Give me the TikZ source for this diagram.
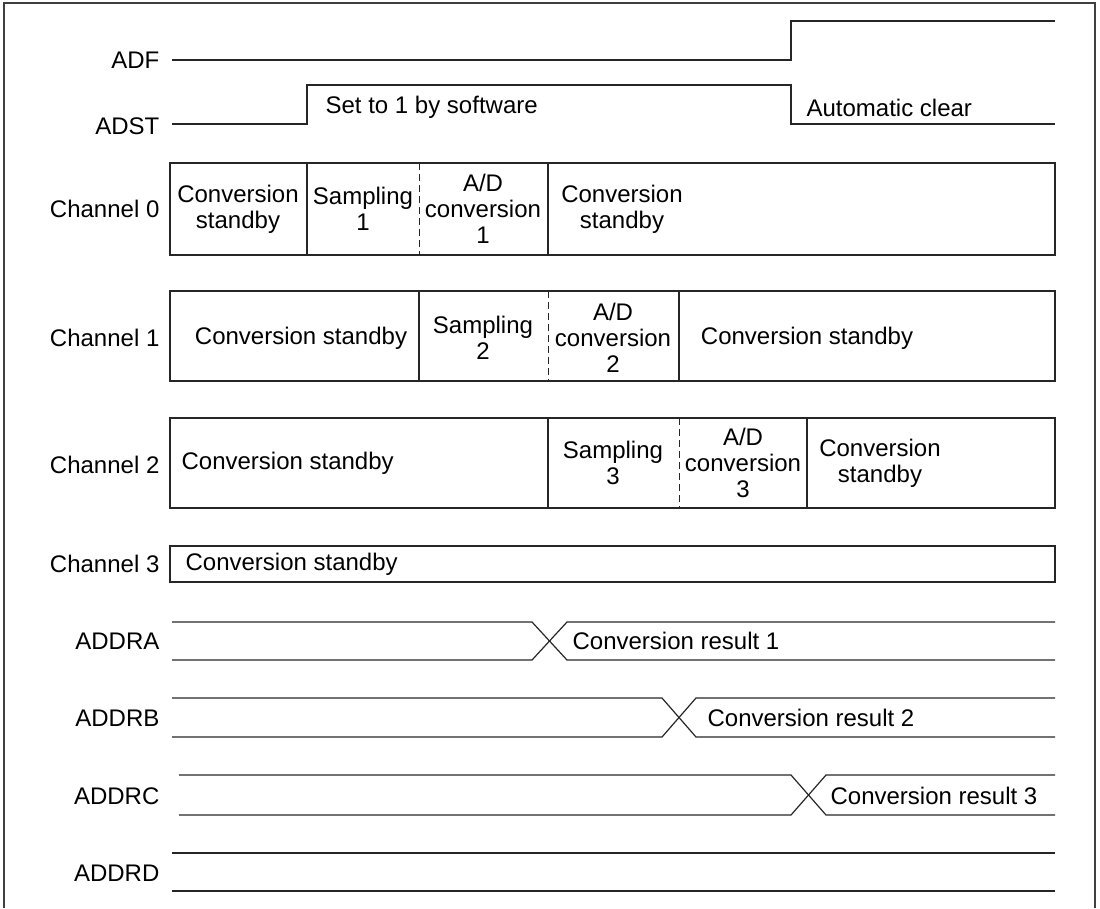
\documentclass[tikz,border=0pt]{standalone}
\usepackage{fontspec}
\setmainfont{Liberation Sans}
\usetikzlibrary{positioning}

\begin{document}
\begin{tikzpicture}[
		x=1pt, y=-1pt,
		line width=1.2pt,
		every node/.style={
			font=\fontsize{24}{26}\selectfont,
			inner sep=0pt
		},
		sig/.style={
			anchor=east
		},
		cell/.style={
			align=center
		},
		lbl/.style={
			anchor=west
		},
		wave/.style={
			draw=black!85,
			line width=1.2pt
		},
		divide/.style={
			draw=black!85,
			dashed,
			dash pattern=on 7pt off 4pt,
			line width=1pt
		}
		]
		\useasboundingbox (0,0) rectangle (1100,908);
		
		% frame
		\draw[draw=black!75] (4,908) -- (4,3) -- (1095,3) -- (1095,908);
		
		% flags
		\node[sig] (adf) at (160,60) {ADF};
		\node[sig] (adst) at (160,126) {ADST};
		\draw[wave] (172,60) -- (791,60) -- (791,21) -- (1055,21);
		\draw[wave] (172,124) -- (307,124) -- (307,85) -- (791,85) -- (791,124) -- (1055,124);
		\node[lbl] (setsw) at (325,107) {Set to 1 by software};
		\node[lbl] (autoclr) at (806,108) {Automatic clear};
		
		% chnl 0
		\node[sig] (ch0) at (160,209) {Channel 0};
		\draw[wave] (170,163) rectangle (1055,255);
		\draw[wave] (307,163) -- (307,255);
		\draw[divide] (419,163) -- (419,255);
		\draw[wave] (548,163) -- (548,255);
		\node[cell] (stby0) at (238,209) {Conversion\\standby};
		\node[cell] (smp1) at (363,209) {Sampling\\1};
		\node[cell] (adc1) at (483,209) {A/D\\conversion\\1};
		\node[cell] (stby0b) at (622,209) {Conversion\\standby};
		
		% chnl 1
		\node[sig] (ch1) at (160,338) {Channel 1};
		\draw[wave] (170,291) rectangle (1055,381);
		\draw[wave] (419,291) -- (419,381);
		\draw[divide] (548,291) -- (548,381);
		\draw[wave] (679,291) -- (679,381);
		\node[cell] (stby1) at (301,338) {Conversion standby};
		\node[cell] (smp2) at (483,338) {Sampling\\2};
		\node[cell] (adc2) at (613,338) {A/D\\conversion\\2};
		\node[cell] (stby1b) at (807,338) {Conversion standby};
		
		% chnl 2
		\node[sig] (ch2) at (160,465) {Channel 2};
		\draw[wave] (170,418) rectangle (1055,508);
		\draw[wave] (548,418) -- (548,508);
		\draw[divide] (679,418) -- (679,508);
		\draw[wave] (807,418) -- (807,508);
		\node[lbl] (stby2) at (181,463) {Conversion standby};
		\node[cell] (smp3) at (613,463) {Sampling\\3};
		\node[cell] (adc3) at (743,463) {A/D\\conversion\\3};
		\node[cell] (stby2b) at (880,463) {Conversion\\standby};
		
		% chnl 3
		\node[sig] (ch3) at (160,564) {Channel 3};
		\draw[wave] (170,546) rectangle (1055,582);
		\node[lbl] (stby3) at (185,564) {Conversion standby};
		
		% result regs
		\node[sig] (ra) at (160,641) {ADDRA};
		\draw[wave] (172,622) -- (532,622) -- (567,660) -- (1055,660);
		\draw[wave] (172,660) -- (532,660) -- (567,622) -- (1055,622);
		\node[lbl] (res1) at (572,641) {Conversion result 1};
		
		\node[sig] (rb) at (160,718) {ADDRB};
		\draw[wave] (172,698) -- (662,698) -- (696,737) -- (1055,737);
		\draw[wave] (172,737) -- (662,737) -- (696,698) -- (1055,698);
		\node[lbl] (res2) at (707,718) {Conversion result 2};
		
		\node[sig] (rc) at (160,796) {ADDRC};
		\draw[wave] (179,775) -- (791,775) -- (826,815) -- (1055,815);
		\draw[wave] (179,815) -- (791,815) -- (826,775) -- (1055,775);
		\node[lbl] (res3) at (830,796) {Conversion result 3};
		
		\node[sig] (rd) at (160,873) {ADDRD};
		\draw[wave] (172,853) -- (1055,853);
		\draw[wave] (172,891) -- (1055,891);
		
	\end{tikzpicture}
\end{document}
